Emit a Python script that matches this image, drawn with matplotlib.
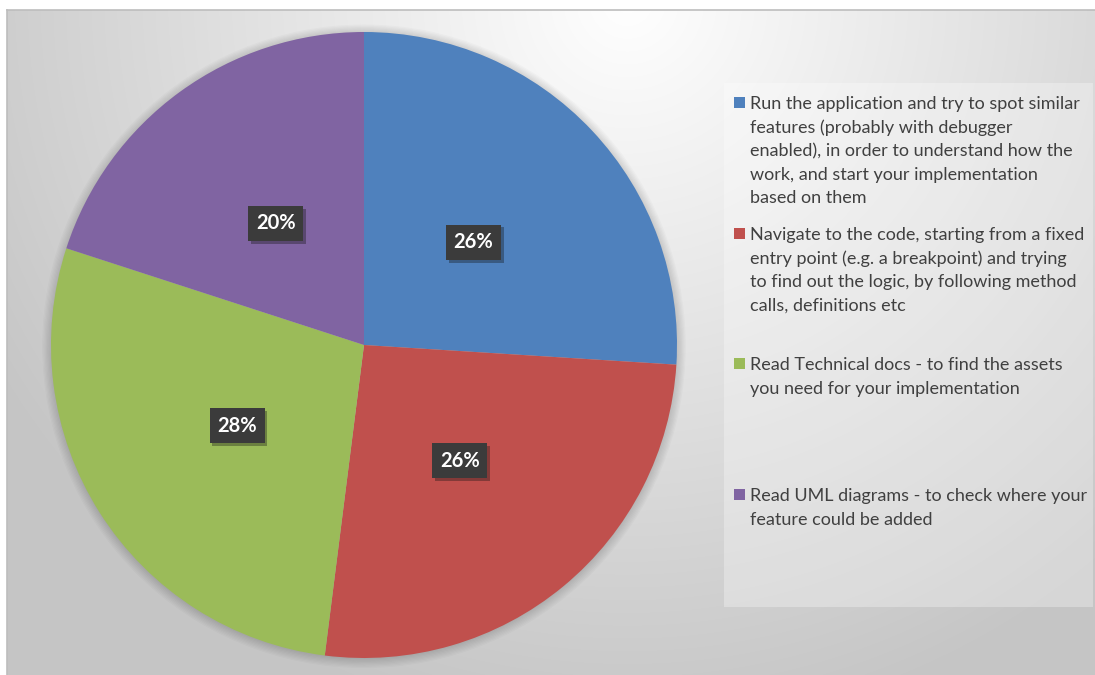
import numpy as np
import matplotlib
matplotlib.use('Agg')
from matplotlib import pyplot as plt
from matplotlib.patches import Rectangle, Circle
import matplotlib.patheffects as pe

labels = [
    'Run the application and try to spot similar\nfeatures (probably with debugger\nenabled), in order to understand how the\nwork, and start your implementation\nbased on them',
    'Navigate to the code, starting from a fixed\nentry point (e.g. a breakpoint) and trying\nto find out the logic, by following method\ncalls, definitions etc',
    'Read Technical docs - to find the assets\nyou need for your implementation',
    'Read UML diagrams - to check where your\nfeature could be added',
]
shares = [26, 26, 28, 20]
colors = ['#4F81BD', '#C0504D', '#9BBB59', '#8064A2']

W, H = 1095, 675
fig = plt.figure(figsize=(W / 100, H / 100), dpi=100)
fig.patch.set_facecolor('white')

# chart area background: radial grey gradient
bg = fig.add_axes([7 / W, 0, (W - 7) / W, (H - 10) / H])
yy, xx = np.mgrid[0:H - 10, 0:W - 7]
d = np.hypot(xx - 620, yy + 10)
t = np.clip(d / 740, 0, 1)
g = (255 - 58 * t) / 255
bg.imshow(np.dstack([g, g, g]), aspect='auto', interpolation='bilinear')
bg.set_xticks([])
bg.set_yticks([])
for s in ['right', 'bottom']:
    bg.spines[s].set_visible(False)
for s in ['top', 'left']:
    bg.spines[s].set_color('#bdbdbd')
    bg.spines[s].set_linewidth(1.2)

# legend panel
fig.patches.append(Rectangle((724 / W, 1 - 607 / H), (1093 - 724) / W, (607 - 83) / H,
                             transform=fig.transFigure, facecolor='white', alpha=0.3,
                             edgecolor='none'))

# pie
cx, cy, r = 364, 345, 313
lim = 1.1
ax = fig.add_axes([(cx - r * lim) / W, (H - cy - r * lim) / H, 2 * r * lim / W, 2 * r * lim / H])
for k in range(8):
    ax.add_patch(Circle((0, -0.004), 1 + 0.004 * k, facecolor='black', alpha=0.02,
                        edgecolor='none'))
wedges, texts, autotexts = ax.pie(shares, colors=colors, startangle=90, counterclock=False,
                                  radius=1, autopct=lambda p: f'{p:.0f}%', pctdistance=0.48,
                                  wedgeprops=dict(linewidth=0))
for at in autotexts:
    at.set_color('white')
    at.set_fontweight('bold')
    at.set_fontsize(14.5)
    at.set_fontfamily('Lato')
    at.set_bbox(dict(boxstyle='square,pad=0.38', facecolor='#3b3b3b', edgecolor='none'))
    at.get_bbox_patch().set_path_effects([pe.SimplePatchShadow(offset=(2, -2), alpha=0.35),
                                          pe.Normal()])
ax.set_xlim(-lim, lim)
ax.set_ylim(-lim, lim)
ax.set_aspect('auto')
ax.axis('off')

# legend entries, one text per line so baselines sit where they should
base_y = [109, 240, 370, 501]
line_h = 23.6
for lab, col, by in zip(labels, colors, base_y):
    fig.patches.append(Rectangle((734 / W, 1 - (by - 1) / H), 11 / W, 11 / H,
                                 transform=fig.transFigure, facecolor=col, edgecolor='none'))
    for i, line in enumerate(lab.split('\n')):
        fig.text(750 / W, 1 - (by + i * line_h) / H, line, ha='left', va='baseline',
                 fontsize=13, family='Lato', color='#404040')

fig.savefig('out.png', dpi=100)
